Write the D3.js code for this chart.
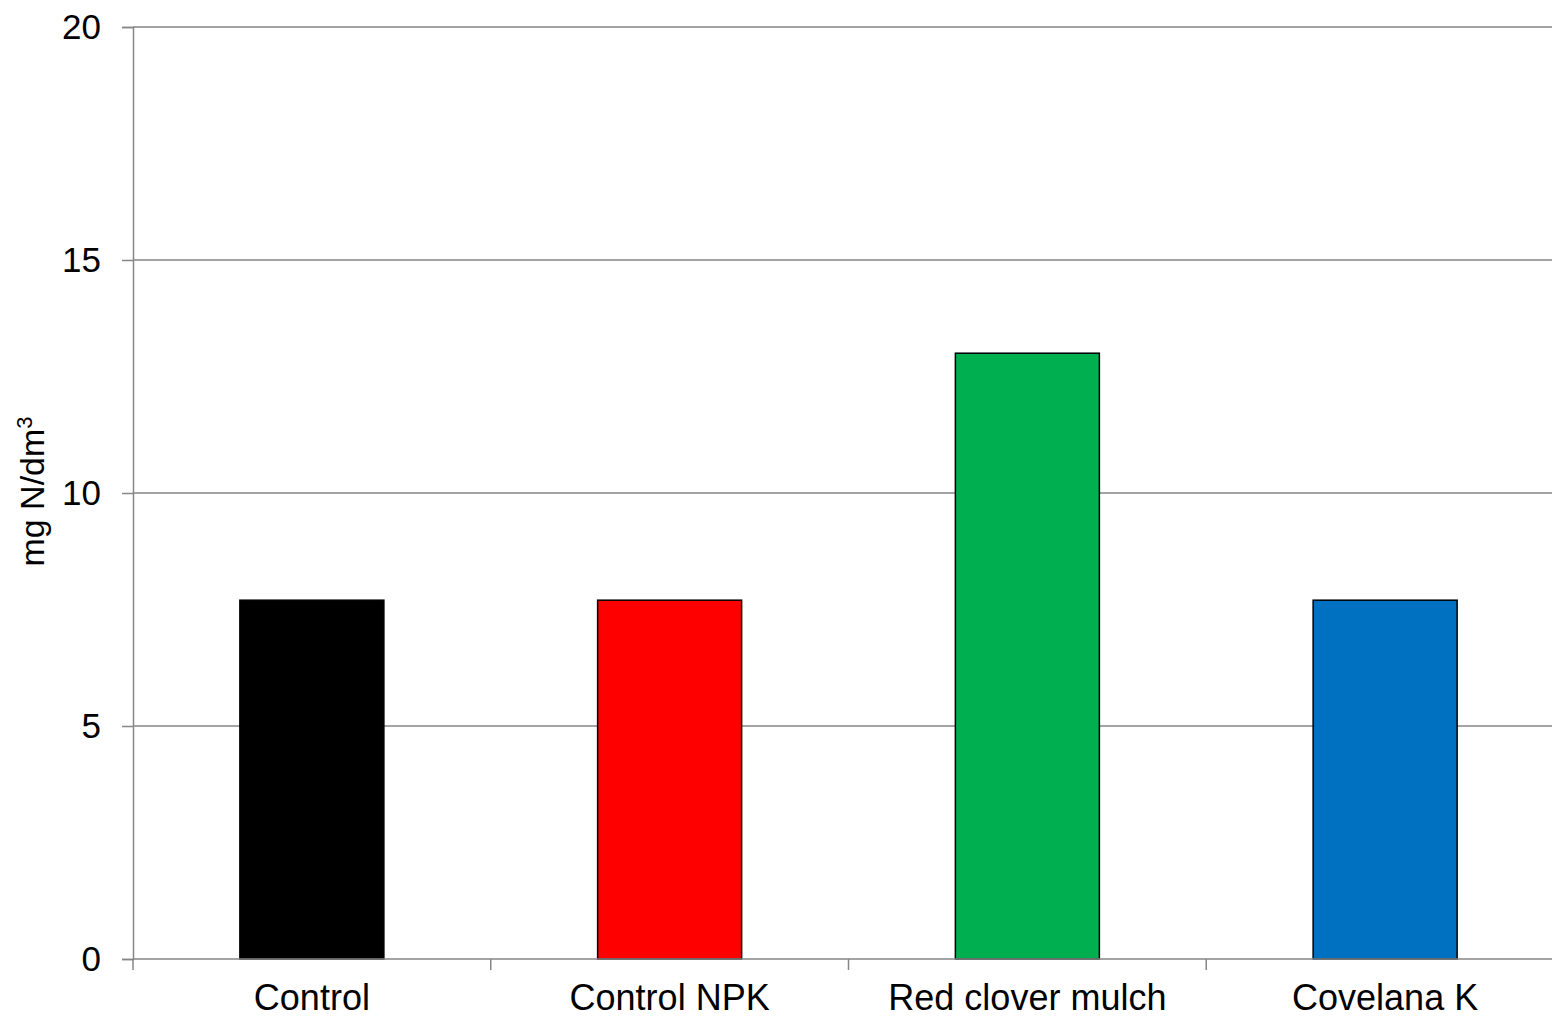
<!DOCTYPE html>
<html>
<head>
<meta charset="utf-8">
<script src="https://cdn.jsdelivr.net/npm/d3@7"></script>
<style>
  html, body { margin: 0; padding: 0; background: #fff; overflow: hidden; }
  svg { display: block; }
  text { font-family: "Liberation Sans", Arial, sans-serif; fill: #000; }
</style>
</head>
<body>
<svg id="chart" width="1552" height="1017"></svg>
<script>
// Soil mineral nitrogen by treatment
const categories = ["Control", "Control NPK", "Red clover mulch", "Covelana K"];
const values = [7.7, 7.7, 13.0, 7.7];
const barColors = ["#000000", "#FF0000", "#00B050", "#0070C0"];
const yTicks = [0, 5, 10, 15, 20];
const yLabel = "mg N/dm";

const svg = d3.select("#chart");
const plotLeft = 133, plotTop = 27, plotBottom = 959, plotRight = 1564;

const x = d3.scaleBand().domain(categories).range([plotLeft, plotRight]).paddingInner(0).paddingOuter(0);
const y = d3.scaleLinear().domain([0, 20]).range([plotBottom, plotTop]);

// horizontal gridlines
svg.append("g").selectAll("line").data(yTicks.filter(d => d > 0)).join("line")
  .attr("x1", plotLeft).attr("x2", plotRight)
  .attr("y1", d => y(d)).attr("y2", d => y(d))
  .attr("stroke", "#868686").attr("stroke-width", 1.5);

// bars
const barW = 144;
svg.append("g").selectAll("rect").data(values).join("rect")
  .attr("x", (d, i) => x(categories[i]) + x.bandwidth() / 2 - barW / 2)
  .attr("y", d => y(d))
  .attr("width", barW)
  .attr("height", d => y(0) - y(d))
  .attr("fill", (d, i) => barColors[i])
  .attr("stroke", "#000").attr("stroke-width", 1.5);

// y axis
const yAxis = d3.axisLeft(y).tickValues(yTicks).tickSize(11).tickPadding(21).tickFormat(d3.format("d"));
const gy = svg.append("g").attr("transform", `translate(${plotLeft},0)`).call(yAxis);
gy.select(".domain").attr("stroke", "#868686").attr("stroke-width", 1.5);
gy.selectAll(".tick line").attr("stroke", "#868686").attr("stroke-width", 1.5);
gy.selectAll(".tick text").attr("font-size", 35).attr("font-family", "Liberation Sans, Arial, sans-serif").attr("fill", "#000");

// x axis with ticks at band boundaries
const gx = svg.append("g").attr("transform", `translate(0,${plotBottom})`);
gx.append("line").attr("x1", plotLeft).attr("x2", plotRight).attr("stroke", "#868686").attr("stroke-width", 1.5);
const bounds = categories.map(c => x(c)).concat([plotRight]);
gx.selectAll("line.tk").data(bounds).join("line").attr("class", "tk")
  .attr("x1", d => d).attr("x2", d => d).attr("y1", 0).attr("y2", 11)
  .attr("stroke", "#868686").attr("stroke-width", 1.5);
gx.selectAll("text").data(categories).join("text")
  .attr("x", d => x(d) + x.bandwidth() / 2)
  .attr("y", 51)
  .attr("text-anchor", "middle")
  .attr("font-size", 36)
  .text(d => d);

// y axis title
const yt = svg.append("text")
  .attr("transform", `translate(44,${(410 + 573) / 2}) rotate(-90)`)
  .attr("text-anchor", "middle")
  .attr("font-size", 34);
yt.append("tspan").text(yLabel);
yt.append("tspan").attr("font-size", 22).attr("dy", -12).text("3");
</script>
</body>
</html>
